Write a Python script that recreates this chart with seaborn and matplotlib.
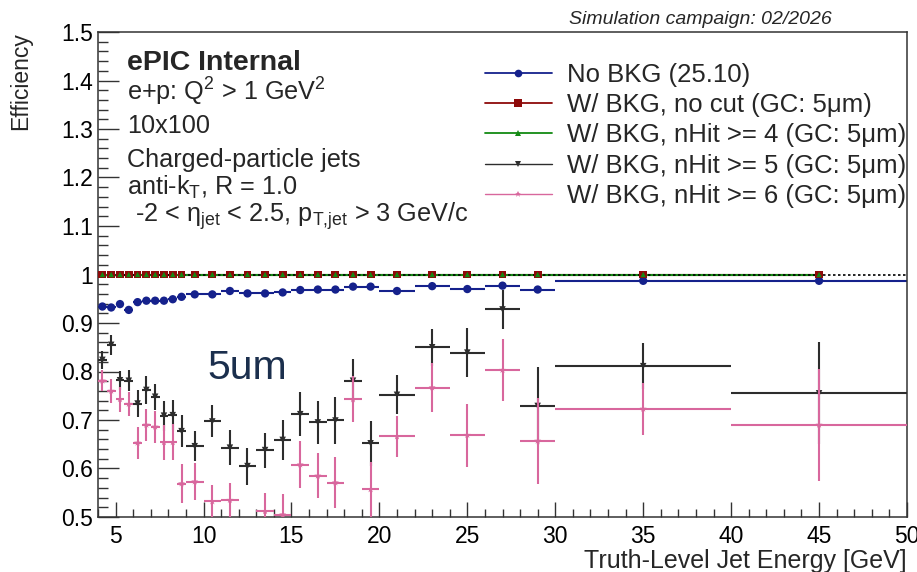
import numpy as np
import pandas as pd
import matplotlib
matplotlib.use("Agg")
import matplotlib.pyplot as plt
from matplotlib.lines import Line2D
from matplotlib.ticker import MultipleLocator, FuncFormatter
import seaborn as sns

# Truth-level jet energy binning [GeV]
energy_edges = [4, 4.5, 5, 5.5, 6, 6.5, 7, 7.5, 8, 8.5, 9,
                10, 11, 12, 13, 14, 15, 16, 17, 18, 19, 20,
                22, 24, 26, 28, 30, 40, 50]

# Jet efficiency per bin
eff_no_bkg = [0.934, 0.932, 0.939, 0.927, 0.943, 0.946, 0.946, 0.946, 0.949, 0.954,
              0.959, 0.959, 0.966, 0.961, 0.961, 0.963, 0.968, 0.969, 0.969, 0.975, 0.975,
              0.966, 0.976, 0.970, 0.977, 0.969,
              0.987, 0.987]
eff_no_cut = [1.0, 1.0, 1.0, 1.0, 1.0, 1.0, 1.0, 1.0, 1.0, 1.0,
              1.0, 1.0, 1.0, 1.0, 1.0, 1.0, 1.0, 1.0, 1.0, 1.0, 1.0,
              1.0, 1.0, 1.0, 1.0, 1.0,
              1.0, 1.0]
eff_nhit4 = [1.0, 1.0, 1.0, 1.0, 1.0, 1.0, 1.0, 1.0, 1.0, 1.0,
             1.0, 1.0, 1.0, 1.0, 1.0, 1.0, 1.0, 1.0, 1.0, 1.0, 1.0,
             1.0, 1.0, 1.0, 1.0, 1.0,
             1.0, 1.0]
eff_nhit5 = [0.824, 0.855, 0.782, 0.781, 0.734, 0.762, 0.748, 0.709, 0.710, 0.677,
             0.646, 0.697, 0.643, 0.605, 0.638, 0.659, 0.712, 0.695, 0.699, 0.781, 0.652,
             0.752, 0.850, 0.839, 0.928, 0.729,
             0.811, 0.755]
err_nhit5 = [0.019, 0.020, 0.020, 0.022, 0.027, 0.029, 0.027, 0.031, 0.031, 0.033,
             0.031, 0.033, 0.036, 0.038, 0.036, 0.041, 0.046, 0.045, 0.048, 0.045, 0.046,
             0.040, 0.038, 0.050, 0.041, 0.080,
             0.048, 0.105]
eff_nhit6 = [0.781, 0.760, 0.743, 0.733, 0.653, 0.690, 0.686, 0.654, 0.654, 0.569,
             0.573, 0.532, 0.535, 0.455, 0.512, 0.505, 0.608, 0.585, 0.571, 0.743, 0.557,
             0.666, 0.767, 0.669, 0.803, 0.657,
             0.723, 0.690]
err_nhit6 = [0.022, 0.024, 0.026, 0.024, 0.033, 0.033, 0.033, 0.036, 0.037, 0.040,
             0.038, 0.034, 0.036, 0.040, 0.038, 0.043, 0.048, 0.046, 0.052, 0.048, 0.057,
             0.043, 0.050, 0.065, 0.064, 0.088,
             0.053, 0.115]

series_labels = ["No BKG (25.10)",
                 "W/ BKG, no cut (GC: 5\u03bcm)",
                 "W/ BKG, nHit >= 4 (GC: 5\u03bcm)",
                 "W/ BKG, nHit >= 5 (GC: 5\u03bcm)",
                 "W/ BKG, nHit >= 6 (GC: 5\u03bcm)"]

info_lines = ["e+p: Q$^{\\mathrm{2}}$ > 1 GeV$^{\\mathrm{2}}$",
              "10x100",
              "Charged-particle jets",
              "anti-k$_{\\mathrm{T}}$, R = 1.0"]
kin_line = "-2 < \u03b7$_{\\mathrm{jet}}$ < 2.5, p$_{\\mathrm{T{,}jet}}$ > 3 GeV/c"

C_BLUE = "#15218c"
C_RED = "#8e0a0a"
C_GREEN = "#138a13"
C_BLACK = "#2d2d2d"
C_PINK = "#d8679d"

sns.set_theme(style="ticks")
plt.rcParams["font.family"] = ["Liberation Sans", "DejaVu Sans"]
plt.rcParams["mathtext.fontset"] = "custom"
plt.rcParams["mathtext.rm"] = "Liberation Sans"
plt.rcParams["mathtext.it"] = "Liberation Sans:italic"
plt.rcParams["mathtext.bf"] = "Liberation Sans:bold"

edges = np.array(energy_edges)
centers = 0.5 * (edges[:-1] + edges[1:])
halfw = 0.5 * np.diff(edges)

df = pd.DataFrame({
    "energy": centers,
    "halfw": halfw,
    "no_bkg": eff_no_bkg,
    "no_cut": eff_no_cut,
    "nhit4": eff_nhit4,
    "nhit5": eff_nhit5,
    "nhit5_err": err_nhit5,
    "nhit6": eff_nhit6,
    "nhit6_err": err_nhit6,
})

W, H = 917, 572
fig = plt.figure(figsize=(W / 100, H / 100), dpi=100)
fig.patch.set_facecolor("white")
ax = fig.add_axes([98 / W, 1 - 517 / H, (907 - 98) / W, (517 - 32) / H])
ax.set_facecolor("white")

# No background: horizontal bin-width bars + circles
ax.errorbar(df["energy"], df["no_bkg"], xerr=df["halfw"], fmt="none",
            ecolor=C_BLUE, elinewidth=1.5, capsize=0, zorder=2)
sns.scatterplot(data=df, x="energy", y="no_bkg", marker="o", s=36,
                color=C_BLUE, edgecolor="none", linewidth=0, ax=ax, zorder=3)

# With background, no cut / nHit>=4: connected points at full efficiency
sns.lineplot(data=df, x="energy", y="no_cut", color=C_RED, lw=1.5, ax=ax, zorder=4)
sns.lineplot(data=df, x="energy", y="nhit4", color=C_GREEN, lw=1.5, ax=ax, zorder=4.2)
ax.axhline(1.0, color="black", lw=1.2, ls=(0, (1.5, 1.5)), zorder=4.5)
sns.scatterplot(data=df, x="energy", y="no_cut", marker="s", s=32,
                color=C_RED, edgecolor="none", linewidth=0, ax=ax, zorder=5)
sns.scatterplot(data=df, x="energy", y="nhit4", marker="^", s=15,
                color=C_GREEN, edgecolor="none", linewidth=0, ax=ax, zorder=5.5)

# nHit >= 5
ax.errorbar(df["energy"], df["nhit5"], xerr=df["halfw"], yerr=df["nhit5_err"],
            fmt="none", ecolor=C_BLACK, elinewidth=1.5, capsize=0, zorder=6)
sns.scatterplot(data=df, x="energy", y="nhit5", marker="v", s=22,
                color=C_BLACK, edgecolor="none", linewidth=0, ax=ax, zorder=6.5)

# nHit >= 6
ax.errorbar(df["energy"], df["nhit6"], xerr=df["halfw"], yerr=df["nhit6_err"],
            fmt="none", ecolor=C_PINK, elinewidth=1.5, capsize=0, zorder=7)
sns.scatterplot(data=df, x="energy", y="nhit6", marker="*", s=28,
                color=C_PINK, edgecolor="none", linewidth=0, ax=ax, zorder=7.5)

ax.set_xlim(4, 50)
ax.set_ylim(0.5, 1.5)
ax.set_xlabel("")
ax.set_ylabel("")

ax.xaxis.set_major_locator(MultipleLocator(5))
ax.xaxis.set_minor_locator(MultipleLocator(1))
ax.yaxis.set_major_locator(MultipleLocator(0.1))
ax.yaxis.set_minor_locator(MultipleLocator(0.02))
ax.yaxis.set_major_formatter(FuncFormatter(lambda v, p: f"{v:g}"))

ax.tick_params(axis="both", which="both", direction="in", color="#333333",
               width=1.0, labelsize=16.5, labelcolor="black",
               top=False, right=False)
ax.tick_params(axis="y", which="major", length=15, pad=3.5)
ax.tick_params(axis="y", which="minor", length=7.5)
ax.tick_params(axis="x", which="major", length=10.5, pad=5.5)
ax.tick_params(axis="x", which="minor", length=5.5)
for sp in ax.spines.values():
    sp.set_color("#333333")
    sp.set_linewidth(1.1)
    sp.set_visible(True)

# Axis titles
fig.text(907 / W, 1 - 568 / H, "Truth-Level Jet Energy [GeV]", fontsize=18,
         ha="right", va="baseline")
fig.text(21 / W, 1 - 32 / H, "Efficiency", fontsize=16.5, rotation=90,
         ha="center", va="top")
fig.text(700 / W, 1 - 24 / H, "Simulation campaign: 02/2026", fontsize=14,
         style="italic", ha="center", va="baseline")

# Analysis labels
fig.text(127 / W, 1 - 70 / H, "ePIC Internal", fontsize=20.5, weight="bold",
         va="baseline")
for txt, yb in zip(info_lines, [101, 133, 167, 195]):
    fig.text(127 / W, 1 - yb / H, txt, fontsize=18.2, va="baseline")
fig.text(135 / W, 1 - 222 / H, kin_line, fontsize=18.2, va="baseline")

fig.text(207 / W, 1 - 379 / H, "5um", fontsize=29.5, color="#1b2f4d",
         va="baseline")

# Legend
handles = [
    Line2D([], [], color=C_BLUE, lw=1.3, marker="o", markersize=5.5, markeredgewidth=0),
    Line2D([], [], color=C_RED, lw=1.3, marker="s", markersize=6, markeredgewidth=0),
    Line2D([], [], color=C_GREEN, lw=1.3, marker="^", markersize=5, markeredgewidth=0),
    Line2D([], [], color=C_BLACK, lw=1.0, marker="v", markersize=5, markeredgewidth=0),
    Line2D([], [], color=C_PINK, lw=1.0, marker="*", markersize=5, markeredgewidth=0),
]
fig.legend(handles, series_labels, loc="upper left",
           bbox_to_anchor=(485 / W, 1 - 63 / H), bbox_transform=fig.transFigure,
           frameon=False, fontsize=18.5, handlelength=2.6, handletextpad=0.58,
           labelspacing=0.24, borderpad=0, borderaxespad=0)

fig.savefig("out.png", dpi=100, facecolor="white")
